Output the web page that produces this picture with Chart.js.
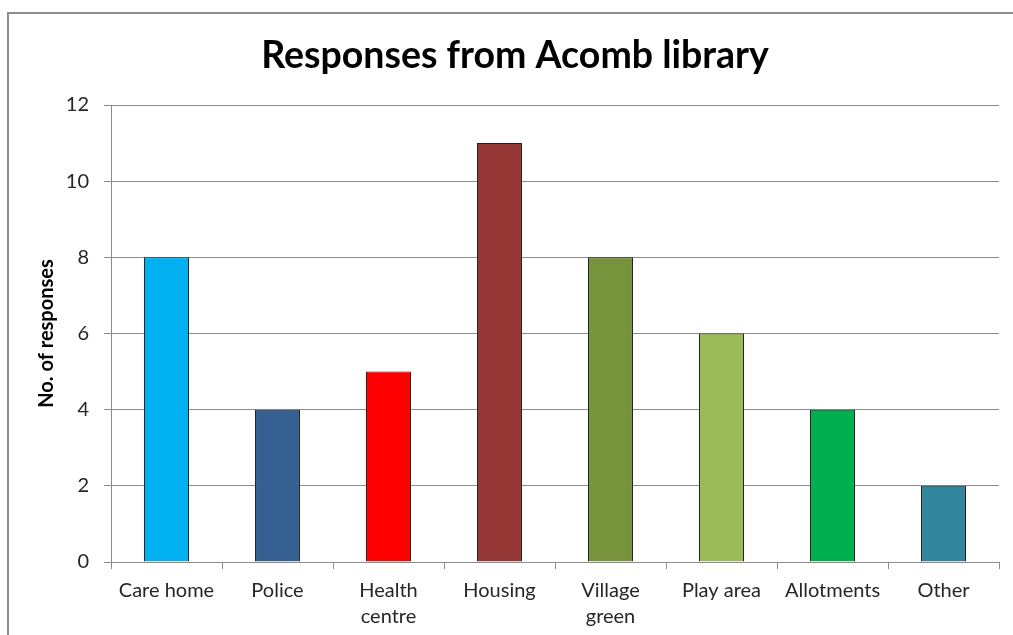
<!DOCTYPE html>
<html>
<head>
<meta charset="utf-8">
<script src="https://cdn.jsdelivr.net/npm/chart.js@4"></script>
<style>
  html, body { margin: 0; padding: 0; background: #fff; }
  canvas { display: block; }
</style>
</head>
<body>
<canvas id="chart" width="1013" height="635"></canvas>
<script>
const categories = ['Care home', 'Police', ['Health', 'centre'], 'Housing', ['Village', 'green'], 'Play area', 'Allotments', 'Other'];
const responses  = [8, 4, 5, 11, 8, 6, 4, 2];
const barColors  = ['#00B0F0', '#376092', '#FF0000', '#953735', '#77933C', '#9BBB59', '#00B050', '#31859C'];
const yTicks     = [0, 2, 4, 6, 8, 10, 12];

const FONT = 'Lato, Calibri, "Open Sans", sans-serif';

// grey frame round the whole chart
const frame = {
  id: 'frame',
  beforeDraw(chart) {
    const c = chart.ctx;
    c.save();
    c.fillStyle = '#fff';
    c.fillRect(0, 0, chart.width, chart.height);
    c.strokeStyle = '#8c8c8c';
    c.lineWidth = 2;
    c.strokeRect(8, 13, chart.width + 20, chart.height + 20);
    c.restore();
  }
};

new Chart(document.getElementById('chart').getContext('2d'), {
  type: 'bar',
  data: {
    labels: categories,
    datasets: [{
      data: responses,
      backgroundColor: barColors,
      borderColor: '#1f1f1f',
      borderWidth: 1,
      categoryPercentage: 1,
      barPercentage: 0.405
    }]
  },
  options: {
    responsive: false,
    animation: false,
    layout: { padding: { top: 14, right: 14, bottom: 0, left: 31 } },
    plugins: {
      legend: { display: false },
      tooltip: { enabled: false },
      title: {
        display: true,
        text: 'Responses from Acomb library',
        color: '#000',
        font: { family: FONT, size: 37.5, weight: 'bold' },
        padding: { top: 19, bottom: 27 }
      }
    },
    scales: {
      x: {
        grid: { display: true, drawOnChartArea: false, offset: true, color: '#8c8c8c', tickLength: 7 },
        border: { color: '#8c8c8c' },
        ticks: { color: '#262626', font: { family: FONT, size: 20, lineHeight: 1.3 }, padding: 9, maxRotation: 0, autoSkip: false },
        afterFit(scale) { scale.height = 73; }
      },
      y: {
        min: 0,
        max: 12,
        afterBuildTicks(scale) { scale.ticks = yTicks.map(v => ({ value: v })); },
        grid: { color: '#8c8c8c', tickLength: 7 },
        border: { color: '#8c8c8c' },
        ticks: { color: '#262626', font: { family: FONT, size: 20 }, padding: 15 },
        title: {
          display: true,
          text: 'No. of responses',
          color: '#000',
          font: { family: FONT, size: 20, weight: 'bold' },
          padding: { top: 4, bottom: 0 }
        },
        afterFit(scale) { scale.width = 80; }
      }
    }
  },
  plugins: [frame]
});
</script>
</body>
</html>
